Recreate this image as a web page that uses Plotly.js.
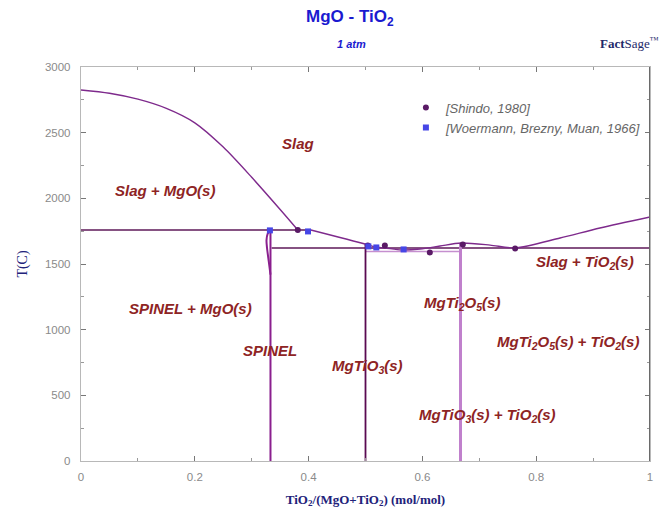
<!DOCTYPE html>
<html>
<head>
<meta charset="utf-8">
<script src="https://cdn.plot.ly/plotly-3.0.1.min.js"></script>
<style>
  html, body { margin: 0; padding: 0; background: #ffffff; }
  #chart { width: 671px; height: 515px; }
</style>
</head>
<body>
<div id="chart"></div>
<script>
// MgO - TiO2 phase diagram at 1 atm

// Liquidus from the MgO side down to the upper invariant
const liqMgOX = [0, 0.05, 0.10, 0.15, 0.20, 0.25, 0.30, 0.35, 0.381];
const liqMgOT = [2825, 2800, 2755, 2685, 2575, 2390, 2160, 1915, 1759];

// Liquidus from the upper invariant across to pure TiO2
const liqTiX = [0.404, 0.499, 0.517, 0.534, 0.564, 0.596, 0.631, 0.668, 0.719, 0.763, 0.842, 0.912, 1.0];
const liqTiT = [1759, 1652, 1629, 1622, 1607, 1614, 1637, 1660, 1644, 1622, 1698, 1774, 1858];

// Invariant lines
const upperInvX = [0, 0.404];
const upperInvT = [1759, 1759];
const lowerInvX = [0.335, 1.0];
const lowerInvT = [1622, 1622];
const midInvX = [0.5, 0.667];
const midInvT = [1595, 1595];

// Compound lines
const spinelX = [0.333, 0.333];
const spinelT = [0, 1759];
const spinelSolvusX = [0.333, 0.328, 0.326, 0.327, 0.330, 0.333];
const spinelSolvusT = [1759, 1730, 1680, 1620, 1520, 1420];
const mgtio3X = [0.5, 0.5];
const mgtio3T = [0, 1652];
const mgti2o5X = [0.667, 0.667];
const mgti2o5T = [0, 1660];

// Experimental points
const shindoX = [0.381, 0.504, 0.534, 0.613, 0.671, 0.763];
const shindoT = [1759, 1641, 1641, 1588, 1649, 1618];
const woermannX = [0.332, 0.399, 0.505, 0.519, 0.567];
const woermannT = [1756, 1748, 1634, 1626, 1611];

// Phase field labels
const fieldText = [
  'Slag', 'Slag + MgO(s)', 'SPINEL + MgO(s)', 'SPINEL',
  'MgTiO<sub>3</sub>(s)', 'MgTi<sub>2</sub>O<sub>5</sub>(s)',
  'MgTi<sub>2</sub>O<sub>5</sub>(s) + TiO<sub>2</sub>(s)',
  'MgTiO<sub>3</sub>(s) + TiO<sub>2</sub>(s)', 'Slag + TiO<sub>2</sub>(s)'
];
const fieldX = [0.381, 0.148, 0.192, 0.332, 0.503, 0.670, 0.856, 0.714, 0.886];
const fieldT = [2421, 2063, 1165, 838, 723, 1203, 906, 350, 1515];

const xTickVals = [0, 0.2, 0.4, 0.6, 0.8, 1];
const xTickText = ['0', '0.2', '0.4', '0.6', '0.8', '1'];
const yTickVals = [0, 500, 1000, 1500, 2000, 2500, 3000];

const darkLine = '#5e1858';
const liqColor = '#7e2a8c';

function line(x, y, color, width, shape) {
  return { x: x, y: y, mode: 'lines', type: 'scatter', showlegend: false,
           hoverinfo: 'skip',
           line: { color: color, width: width, shape: shape || 'linear', smoothing: 0.8 } };
}

const traces = [
  line(upperInvX, upperInvT, darkLine, 1.6),
  line(lowerInvX, lowerInvT, darkLine, 1.3),
  line(midInvX, midInvT, '#c58fcf', 1.3),
  line(spinelX, spinelT, '#8a1f8e', 2),
  line(spinelSolvusX, spinelSolvusT, '#8a1f8e', 2, 'spline'),
  line(mgtio3X, mgtio3T, '#5a0a52', 1.8),
  line(mgti2o5X, mgti2o5T, '#c080cc', 3),
  line(liqMgOX, liqMgOT, liqColor, 1.4, 'spline'),
  line(liqTiX, liqTiT, liqColor, 1.4, 'spline'),
  {
    x: shindoX, y: shindoT, mode: 'markers', type: 'scatter',
    name: '<i>[Shindo, 1980]</i>',
    marker: { symbol: 'circle', size: 6, color: '#5a1a66' }
  },
  {
    x: woermannX, y: woermannT, mode: 'markers', type: 'scatter',
    name: '<i>[Woermann, Brezny, Muan, 1966]</i>',
    marker: { symbol: 'square', size: 6, color: '#4646e6' }
  }
];

const labelFont = { family: 'Arial, Liberation Sans, sans-serif', size: 15, color: '#8e2424' };
const annotations = fieldText.map((t, i) => ({
  x: fieldX[i], y: fieldT[i], xref: 'x', yref: 'y',
  text: '<b><i>' + t + '</i></b>', showarrow: false, font: labelFont
}));

annotations.push(
  { xref: 'paper', yref: 'paper', x: 0.472, y: 1.125, xanchor: 'center', yanchor: 'middle',
    text: '<b>MgO - TiO<sub>2</sub></b>', showarrow: false,
    font: { family: 'Arial, Liberation Sans, sans-serif', size: 17, color: '#1a1ad0' } },
  { xref: 'paper', yref: 'paper', x: 0.475, y: 1.058, xanchor: 'center', yanchor: 'middle',
    text: '<b><i>1 atm</i></b>', showarrow: false,
    font: { family: 'Arial, Liberation Sans, sans-serif', size: 11, color: '#1a1ad0' } },
  { xref: 'paper', yref: 'paper', x: 1.02, y: 1.06, xanchor: 'right', yanchor: 'middle',
    text: '<b>Fact</b>Sage<sup>™</sup>', showarrow: false,
    font: { family: 'Liberation Serif, serif', size: 13, color: '#1e2a6a' } }
);

const axisFont = { family: 'Arial, Liberation Sans, sans-serif', size: 11.5, color: '#8a8a8a' };

const layout = {
  width: 671, height: 515,
  margin: { l: 81, r: 21, t: 67, b: 54, pad: 0 },
  paper_bgcolor: '#ffffff', plot_bgcolor: '#ffffff',
  showlegend: true,
  legend: {
    x: 0.571, y: 0.935, xanchor: 'left', yanchor: 'top',
    bgcolor: 'rgba(0,0,0,0)', borderwidth: 0, itemwidth: 30,
    font: { family: 'Arial, Liberation Sans, sans-serif', size: 13, color: '#666666' }
  },
  xaxis: {
    range: [0, 1], tickvals: xTickVals, ticktext: xTickText,
    ticks: 'inside', ticklen: 5, tickcolor: '#777', mirror: 'allticks',
    showline: true, linecolor: '#b8b8b8', linewidth: 1.2,
    showgrid: false, zeroline: false, tickfont: axisFont, ticklabelstandoff: 5,
    minor: { dtick: 0.1, ticks: 'inside', ticklen: 3, tickcolor: '#999', showgrid: false },
    title: { text: '<b>TiO<sub>2</sub>/(MgO+TiO<sub>2</sub>) (mol/mol)</b>', standoff: 12,
             font: { family: 'Liberation Serif, Times New Roman, serif', size: 13, color: '#22227a' } }
  },
  yaxis: {
    range: [0, 3000], tickvals: yTickVals,
    ticks: 'inside', ticklen: 5, tickcolor: '#777', mirror: 'allticks',
    showline: true, linecolor: '#b8b8b8', linewidth: 1.2,
    showgrid: false, zeroline: false, tickfont: axisFont, ticklabelstandoff: 7,
    minor: { dtick: 250, ticks: 'inside', ticklen: 3, tickcolor: '#999', showgrid: false },
    title: { text: 'T(C)', standoff: 14,
             font: { family: 'Liberation Serif, Times New Roman, serif', size: 14, color: '#22227a' } }
  },
  shapes: [
    { type: 'line', xref: 'x', yref: 'paper', x0: 1, x1: 1, y0: 0, y1: 1,
      line: { color: '#6a6a6a', width: 2 } }
  ],
  annotations: annotations
};

Plotly.newPlot('chart', traces, layout, { displayModeBar: false, staticPlot: true });
</script>
</body>
</html>
